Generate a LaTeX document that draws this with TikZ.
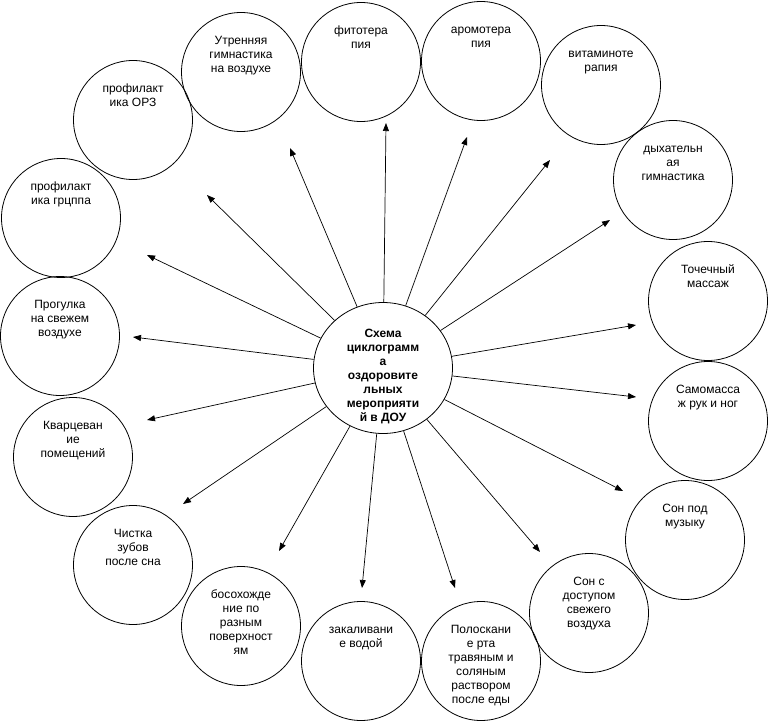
\documentclass[tikz,border=0pt]{standalone}
\usepackage{fontspec}
\setmainfont{Liberation Sans}
\usetikzlibrary{arrows.meta,shapes.geometric}
\tikzset{
  bub/.style={draw, circle, minimum size=119pt, inner sep=0pt, line width=0.8pt},
  lbl/.style={anchor=north, inner sep=0pt, align=center, font=\fontsize{12}{14}\selectfont},
  hub/.style={draw, ellipse, minimum width=139pt, minimum height=131pt, inner sep=0pt, line width=0.8pt},
  hubtxt/.style={anchor=north, inner sep=0pt, align=center, font=\fontsize{12}{14}\selectfont\bfseries},
  arr/.style={-{Triangle[length=8pt,width=6pt]}, line width=0.7pt}
}
\newcommand{\bubble}[4]{%
  \node[bub] (#1) at (#2) {};
  \node[lbl] (#1-t) at ([yshift=-22pt]#1.north) {\strut #3};
  \coordinate (#1-tip) at (#4);
}
\begin{document}
\begin{tikzpicture}[x=1pt,y=-1pt]
\useasboundingbox (0,0) rectangle (770,722);
\fill[white] (0,0) rectangle (770,722);

\node[hub] (c) at (383,368) {};
\node[hubtxt] (c-t) at (383,327) {\strut Схема\\циклограмм\\а\\оздоровите\\льных\\мероприяти\\й в ДОУ};

\bubble{utr}{241,72}{Утренняя\\гимнастика\\на воздухе}{290,148}
\bubble{fito}{361,62}{фитотера\\пия}{386,123}
\bubble{aroma}{481,61}{аромотера\\пия}{467,137}
\bubble{vit}{601,85}{витаминоте\\рапия}{550,160}
\bubble{dyh}{673,180}{дыхательн\\ая\\гимнастика}{610,220}
\bubble{toch}{708,301}{Точечный\\массаж}{636,325}
\bubble{samo}{708,421}{Самомасса\\ж рук и ног}{636,397}
\bubble{sonm}{685,540}{Сон под\\музыку}{623,491}
\bubble{sond}{589,613}{Сон с\\доступом\\свежего\\воздуха}{540,552}
\bubble{pol}{481,661}{Полоскани\\е рта\\травяным и\\соляным\\раствором\\после еды}{455,588}
\bubble{zak}{361,661}{закаливани\\е водой}{362,588}
\bubble{bos}{241,626}{босохожде\\ние по\\разным\\поверхност\\ям}{279,551}
\bubble{chis}{133,565}{Чистка\\зубов\\после сна}{183,504}
\bubble{kvar}{73,457}{Кварцеван\\ие\\помещений}{147,420}
\bubble{prog}{60,336}{Прогулка\\на свежем\\воздухе}{133,337}
\bubble{grip}{61,218}{профилакт\\ика грцппа}{147,255}
\bubble{orz}{133,120}{профилакт\\ика ОРЗ}{207,195}

\foreach \n in {utr,fito,aroma,vit,dyh,toch,samo,sonm,sond,pol,zak,bos,chis,kvar,prog,grip,orz}
  \draw[arr] (c) -- (\n-tip);
\end{tikzpicture}
\end{document}
